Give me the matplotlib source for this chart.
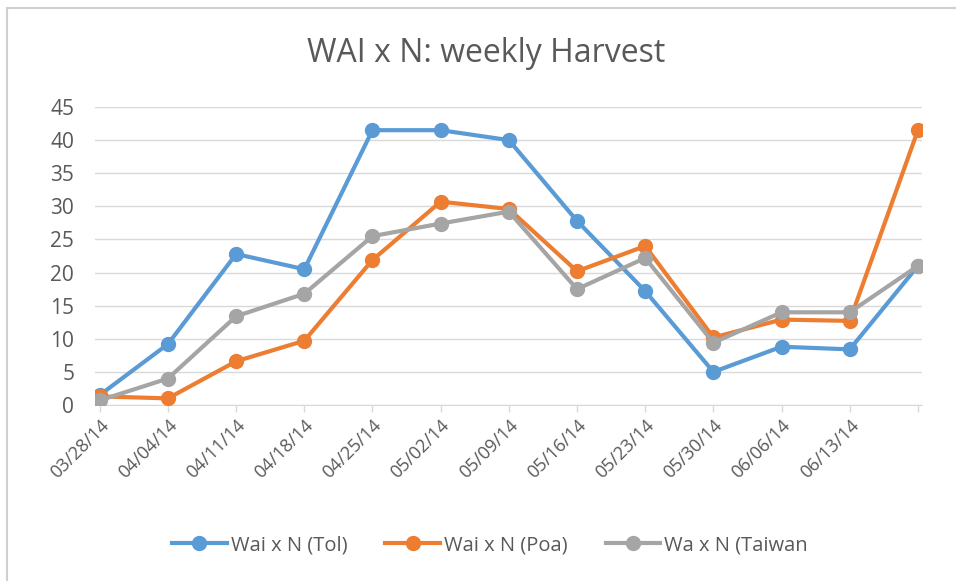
import matplotlib
matplotlib.use("Agg")
import matplotlib.pyplot as plt
from matplotlib.lines import Line2D

dates = ["03/28/14", "04/04/14", "04/11/14", "04/18/14", "04/25/14", "05/02/14",
         "05/09/14", "05/16/14", "05/23/14", "05/30/14", "06/06/14", "06/13/14", ""]
tol = [1.5, 9.2, 22.8, 20.5, 41.5, 41.5, 40.0, 27.8, 17.2, 5.0, 8.8, 8.4, 21.0]
poa = [1.3, 1.0, 6.6, 9.7, 21.9, 30.7, 29.6, 20.2, 24.0, 10.2, 12.9, 12.7, 41.5]
taiwan = [0.7, 4.0, 13.4, 16.8, 25.5, 27.4, 29.2, 17.5, 22.2, 9.4, 14.0, 14.0, 21.0]
series_names = ["Wai x N (Tol)", "Wai x N (Poa)", "Wa x N (Taiwan"]
yticks = [0, 5, 10, 15, 20, 25, 30, 35, 40, 45]

colors = ["#5B9BD5", "#ED7D31", "#A5A5A5"]
font = "Open Sans"
text_color = "#595959"

W, H = 956, 581
fig = plt.figure(figsize=(W / 100, H / 100), dpi=100)
ax = fig.add_axes([95 / W, 1 - 405 / H, (922 - 95) / W, (405 - 107) / H])

x = list(range(len(dates)))
for vals, c, name in zip([tol, poa, taiwan], colors, series_names):
    ax.plot(x, vals, color=c, lw=3, marker="o", ms=10, label=name,
            solid_capstyle="round", solid_joinstyle="round", zorder=3)

ax.set_ylim(0, 45)
ax.set_xlim(-0.07, 12.06)
ax.set_yticks(yticks)
ax.set_yticklabels([str(v) for v in yticks], fontsize=15, color=text_color, family=font)
ax.set_xticks(x)
ax.set_xticklabels(dates, rotation=45, ha="right", rotation_mode="anchor",
                   fontsize=13, color=text_color, family=font)
ax.tick_params(axis="y", length=0, pad=15)
ax.tick_params(axis="x", length=5, color="#D9D9D9", width=1, pad=3)
ax.grid(axis="y", color="#D9D9D9", lw=1)
ax.set_axisbelow(True)
for s in ["top", "right", "left"]:
    ax.spines[s].set_visible(False)
ax.spines["bottom"].set_color("#D9D9D9")

fig.text(0.5 * (305 + 668) / W, 1 - 53 / H, "WAI x N: weekly Harvest", ha="center", va="center",
         fontsize=23, color=text_color, family=font)

handles = [Line2D([0], [0], color=c, lw=3, marker="o", ms=10) for c in colors]
leg = fig.legend(handles, series_names, loc="center", bbox_to_anchor=(490 / W, 1 - 545 / H),
                 ncol=3, frameon=False, handlelength=2.7, columnspacing=1.9, handletextpad=0.2,
                 prop={"family": font, "size": 14.5})
for t in leg.get_texts():
    t.set_color(text_color)

# chart area border
fig.add_artist(Line2D([7 / W, 7 / W], [0, 1 - 8 / H], color="#D0D0D0", lw=1.5, transform=fig.transFigure))
fig.add_artist(Line2D([7 / W, 1], [1 - 8 / H, 1 - 8 / H], color="#D0D0D0", lw=1.5, transform=fig.transFigure))

fig.savefig("out.png", dpi=100)
